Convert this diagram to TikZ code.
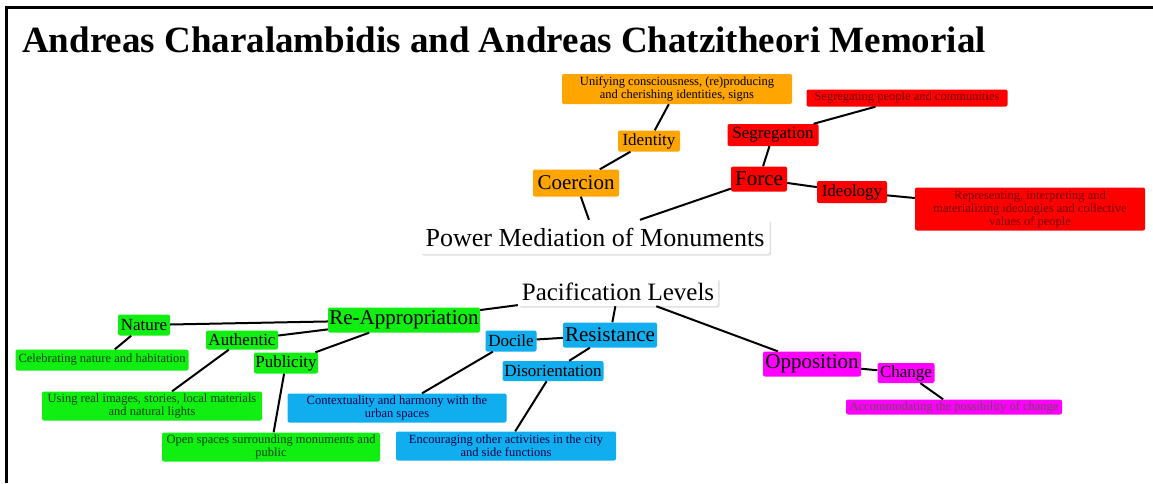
\documentclass[tikz,border=0pt]{standalone}
\usepackage{fontspec}
\setmainfont{Liberation Serif}
\usetikzlibrary{shadows}
\definecolor{corange}{HTML}{FFA500}
\definecolor{cred}{HTML}{FF0000}
\definecolor{cgreen}{HTML}{11EE11}
\definecolor{cblue}{HTML}{10AEEE}
\definecolor{cmag}{HTML}{FF00FF}
\newcommand{\fsA}{\fontsize{21}{24}\selectfont}
\newcommand{\fsB}{\fontsize{17}{20}\selectfont}
\newcommand{\fsC}{\fontsize{12.5}{13}\selectfont}
\tikzset{
  box/.style={rounded corners=2pt, inner sep=0pt, align=center},
  mainbox/.style={box, fill=white, drop shadow={shadow xshift=1.5pt, shadow yshift=-1.5pt, fill=black!12, opacity=1}},
  orangebox/.style={box, fill=corange, text=black},
  redbox/.style={box, fill=cred, text=black},
  redsmall/.style={box, fill=cred, text=red!45!black},
  greenbox/.style={box, fill=cgreen, text=black},
  greensmall/.style={box, fill=cgreen, text=green!25!black},
  bluebox/.style={box, fill=cblue, text=black},
  bluesmall/.style={box, fill=cblue, text=blue!30!black},
  magbox/.style={box, fill=cmag, text=black},
  magsmall/.style={box, fill=cmag, text=magenta!35!black},
  link/.style={draw=black, line width=2pt},
}
\begin{document}
\begin{tikzpicture}[x=1pt, y=-1pt]
\useasboundingbox (0,0) rectangle (1153,483);
\fill[white] (0,0) rectangle (1153,483);
% frame
\draw[line width=3pt] (6,483) -- (6,7) -- (1153,7);
% heading
\node[anchor=base west, inner sep=0pt, font=\bfseries\fontsize{37}{40}\selectfont] (title) at (22,52)
  {Andreas Charalambidis and Andreas Chatzitheori Memorial};

% upper tree
\node[mainbox, minimum width=349, minimum height=34, font=\fontsize{26}{28}\selectfont] (power) at (595,237) {Power Mediation of Monuments};
\node[orangebox, minimum width=86, minimum height=27, font=\fsA] (coercion) at (576,183) {Coercion};
\node[orangebox, minimum width=62, minimum height=21, font=\fsB] (identity) at (649,141) {Identity};
\node[orangebox, minimum width=230, minimum height=30, font=\fsC] (unify) at (677,89) {Unifying consciousness, (re)producing\\and cherishing identities, signs};
\node[redbox, minimum width=56, minimum height=25, font=\fsA] (force) at (759,179) {Force};
\node[redbox, minimum width=91, minimum height=22, font=\fsB] (segregation) at (773,135) {Segregation};
\node[redsmall, minimum width=201, minimum height=17, font=\fsC] (segdesc) at (907,98) {Segregating people and communities};
\node[redbox, minimum width=70, minimum height=22, font=\fsB] (ideology) at (852,192) {Ideology};
\node[redsmall, minimum width=230, minimum height=43, font=\fsC] (ideodesc) at (1030,209) {Representing, interpreting and\\materializing ideologies and collective\\values of people};

\draw[link] (coercion) -- (power);
\draw[link] (power.north) ++(45,0) coordinate (pf) -- (force);
\draw[link] (coercion) -- (identity);
\draw[link] (identity) -- (unify);
\draw[link] (force) -- (segregation);
\draw[link] (segregation) -- (segdesc);
\draw[link] (force) -- (ideology);
\draw[link] (ideology) -- (ideodesc);

% lower tree
\node[mainbox, minimum width=200, minimum height=28, font=\fontsize{25}{27}\selectfont] (pacif) at (618,292) {Pacification Levels};
\node[greenbox, minimum width=152, minimum height=25, font=\fsA] (reapp) at (404,320) {Re-Appropriation};
\node[greenbox, minimum width=52, minimum height=21, font=\fsB] (nature) at (144,325) {Nature};
\node[greenbox, minimum width=72, minimum height=19, font=\fsB] (authentic) at (242,340) {Authentic};
\node[greenbox, minimum width=64, minimum height=21, font=\fsB] (publicity) at (286,363) {Publicity};
\node[greensmall, minimum width=173, minimum height=21, font=\fsC] (natdesc) at (102,360) {Celebrating nature and habitation};
\node[greensmall, minimum width=220, minimum height=29, font=\fsC] (autdesc) at (152,406) {Using real images, stories, local materials\\and natural lights};
\node[greensmall, minimum width=218, minimum height=29, font=\fsC] (pubdesc) at (271,447) {Open spaces surrounding monuments and\\public};
\node[bluebox, minimum width=94, minimum height=25, font=\fsA] (resist) at (610,335) {Resistance};
\node[bluebox, minimum width=51, minimum height=21, font=\fsB] (docile) at (511,341) {Docile};
\node[bluebox, minimum width=101, minimum height=20, font=\fsB] (disor) at (553,371) {Disorientation};
\node[bluesmall, minimum width=219, minimum height=29, font=\fsC] (docdesc) at (397,408) {Contextuality and harmony with the\\urban spaces};
\node[bluesmall, minimum width=220, minimum height=29, font=\fsC] (disdesc) at (506,446) {Encouraging other activities in the city\\and side functions};
\node[magbox, minimum width=98, minimum height=25, font=\fsA] (oppos) at (812,364) {Opposition};
\node[magbox, minimum width=57, minimum height=20, font=\fsB] (change) at (906,373) {Change};
\node[magsmall, minimum width=216, minimum height=15, font=\fsC] (chdesc) at (954,407) {Accommodating the possibility of change};

\draw[link] (pacif) -- (reapp);
\draw[link] (pacif) -- (resist);
\draw[link] (pacif) -- (oppos);
\draw[link] (reapp) -- (nature);
\draw[link] (reapp) -- (authentic);
\draw[link] (reapp) -- (publicity);
\draw[link] (nature) -- (natdesc);
\draw[link] (authentic) -- (autdesc);
\draw[link] (publicity) -- (pubdesc);
\draw[link] (resist) -- (docile);
\draw[link] (docile) -- (docdesc);
\draw[link] (resist) -- (disor);
\draw[link] (disor) -- (disdesc);
\draw[link] (oppos) -- (change);
\draw[link] (change) -- (chdesc);
\end{tikzpicture}
\end{document}
